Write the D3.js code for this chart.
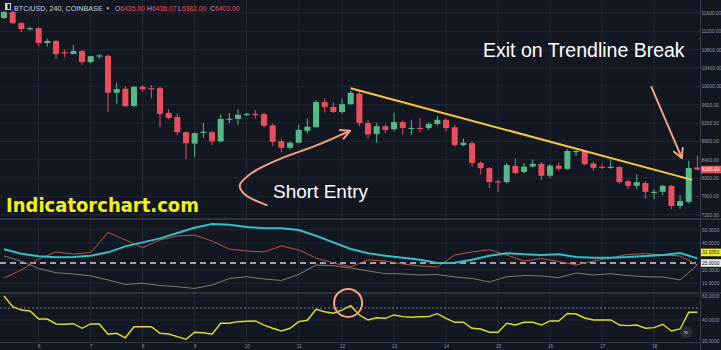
<!DOCTYPE html>
<html>
<head>
<meta charset="utf-8">
<script src="https://cdn.jsdelivr.net/npm/d3@7"></script>
<style>
  html, body { margin: 0; padding: 0; background: #131722; }
  svg { display: block; font-family: "Liberation Sans", Arial, sans-serif; }
</style>
</head>
<body>
<svg id="chart" width="721" height="350"></svg>
<script>
// ---- data ----
const dayLabels = ['6', '7', '8', '9', '10', '11', '12', '13', '14', '15', '16', '17', '18'];
const dayIndex = [4, 10, 16, 22, 28, 34, 39, 45, 51, 57, 63, 69, 75];
const priceTicks = [7200, 7600, 8000, 8400, 8800, 9200, 9600, 10000, 10400, 10800, 11200, 11600];
const dmiTicks = [10, 20, 40, 50];
const oscTicks = [20, 40, 60];

const opens = [11490, 11620, 11380, 11250, 11270, 10945, 10990, 10745, 10705, 10770, 10530, 10660, 10665, 9860, 9950, 9570, 9990, 9960, 9960, 9420,
  9330, 9000, 8750, 8990, 9000, 8800, 9285, 9290, 9390, 9400, 9395, 9150, 8805, 8660, 8770, 9030, 9110, 9660, 9550, 9440,
  9610, 9840, 9200, 8960, 9130, 9065, 9220, 9090, 9095, 9090, 9180, 9270, 9110, 8720, 8760, 8330, 8215, 7930, 7910, 8265,
  8130, 8250, 8310, 8050, 8270, 8200, 8570, 8590, 8320, 8245, 8230, 8240, 7930, 7830, 7890, 7680, 7700, 7830, 7390, 7480, 8230];
const highs = [11650, 11650, 11400, 11300, 11290, 11040, 11010, 10800, 10900, 10790, 10560, 10700, 10690, 10080, 10000, 10010, 10030, 10030, 9990, 9500,
  9410, 9020, 8990, 9200, 9030, 9390, 9420, 9500, 9420, 9480, 9430, 9190, 8850, 8800, 9160, 9300, 9700, 9740, 9650, 9720,
  9900, 9910, 9260, 9200, 9170, 9420, 9260, 9270, 9300, 9220, 9350, 9300, 9160, 8860, 8800, 8360, 8240, 7960, 8320, 8430,
  8330, 8400, 8350, 8300, 8340, 8630, 8610, 8610, 8360, 8300, 8400, 8260, 7960, 8080, 7930, 7760, 7850, 7850, 7620, 8380, 8490];
const lows = [11470, 11360, 11185, 11220, 10880, 10870, 10600, 10630, 10700, 10460, 10500, 10600, 9440, 9620, 9550, 9550, 9880, 9740, 9110, 9280,
  8940, 8420, 8460, 8870, 8720, 8780, 9200, 9160, 9350, 9300, 9100, 8700, 8570, 8620, 8760, 8970, 9100, 9430, 9420, 9400,
  9600, 9130, 8860, 8770, 8980, 9020, 8960, 8940, 9000, 9050, 9140, 9020, 8680, 8690, 8250, 8080, 7780, 7700, 7880, 8080,
  8100, 8230, 7950, 8000, 8150, 8180, 8480, 8280, 8160, 8200, 8200, 7870, 7760, 7760, 7550, 7540, 7630, 7320, 7330, 7450, 8170];
const closes = [11620, 11380, 11250, 11270, 10945, 10990, 10705, 10725, 10770, 10530, 10660, 10675, 9860, 9940, 9570, 9990, 9935, 9945, 9400, 9310,
  9000, 8760, 8980, 9010, 8800, 9290, 9295, 9380, 9400, 9390, 9140, 8790, 8660, 8770, 9050, 9120, 9660, 9550, 9440, 9610,
  9860, 9200, 8950, 9130, 9050, 9220, 9090, 9095, 9085, 9180, 9270, 9090, 8720, 8770, 8330, 8215, 7910, 7910, 8285, 8110,
  8250, 8310, 8050, 8270, 8200, 8590, 8590, 8300, 8220, 8235, 8245, 7910, 7830, 7910, 7700, 7700, 7830, 7390, 7500, 8220, 8185];

// DMI pane, one reading every second bar (bar 0, 2, 4 ... 80)
const dmiBars = d3.range(0, 81, 2);
const adx = [35.3, 32, 30, 29.3, 29.5, 30.5, 33, 37.5, 40.5, 43.5, 47.5, 51.5, 54.3, 53.7, 52, 51, 51, 49.8, 45.5, 40.5,
  35.5, 32.3, 30.5, 29, 27.5, 25, 25.2, 27.5, 30.5, 32.3, 31.5, 31, 31.5, 29.5, 29, 29, 29.5, 30.3, 31, 32.5, 28.5];
const plusDI = [13.7, 19.7, 28, 33.3, 31.7, 32.9, 48, 42.3, 36.5, 42.3, 45.3, 46, 41.5, 35.5, 34, 33.3, 37.8, 34.8, 28.8, 25,
  22.2, 27.3, 26.5, 24.3, 22.8, 22, 31, 33.3, 35, 31, 26.5, 28.4, 26.1, 23.5, 26.5, 28.8, 31.4, 32.1, 31, 30.3, 23.5];
const minusDI = [30.3, 26.3, 20.9, 17.7, 16.8, 15.3, 12.3, 8.9, 9.8, 8.1, 7.2, 5.9, 8.5, 13.4, 14.7, 13, 11.9, 16.4, 23.5, 23,
  21.3, 19, 17.1, 16.8, 16, 16.4, 14.5, 13.4, 10.8, 14.7, 15.6, 15.3, 14, 17.5, 16, 16.9, 15.6, 14.7, 14.5, 12.3, 23.5];
const adxLast = 32.9351;
const adxLevel = 25;

// lower oscillator, one reading per bar
const osc = [60, 51.1, 48.3, 47.5, 40.8, 40.8, 36.7, 36.4, 36.9, 33.1, 36.7, 36.7, 28.1, 28.9, 25.2, 34.4, 34.4, 34.4, 28.9, 28.3,
  26.1, 23.9, 29.8, 29.4, 28.1, 37.3, 37.3, 38.6, 38.9, 39.2, 35.8, 33.1, 30.8, 33.1, 38.6, 39.8, 48.9, 46.9, 45.6, 48.3,
  51.9, 44.2, 40, 41.9, 41.4, 44.2, 42.8, 42.3, 42.7, 42.8, 45.3, 41.4, 38.1, 38.1, 33.1, 32.5, 29.8, 29.8, 37.3, 35.8,
  38.1, 38.1, 35.8, 39.2, 39.2, 45.4, 45, 41.7, 40, 40, 40, 35.8, 35.3, 35.8, 33.1, 33.6, 36.4, 30.8, 32.5, 46.4, 46.4];
const oscLevel = 50;

const symbol = 'BTC/USD, 240, COINBASE';
const ohlcKeys = ['O', 'H', 'L', 'C'];
const ohlcVals = ['6435.00', '6436.07', '6382.00', '6403.00'];

// ---- layout ----
const plotRight = 700;
const upColor = '#53b987', downColor = '#eb4d5c';
const gridColor = '#242833', axisText = '#9598a1', sepColor = '#4a4e59';
const axisFont = 4.8;

const svg = d3.select('#chart');
const x = d3.scaleLinear().domain([0, 80]).range([4, 697.4]);
const yPrice = d3.scaleLinear().domain([7200, 11600]).range([214.7, 13]);
const yDmi = d3.scaleLinear().domain([10, 50]).range([283, 229.7]);
const yOsc = d3.scaleLinear().domain([20, 60]).range([344, 296]);

svg.append('rect').attr('width', 721).attr('height', 350).attr('fill', '#131722');

const defs = svg.append('defs');
function clip(id, y0, y1) {
  defs.append('clipPath').attr('id', id).append('rect')
    .attr('x', 0).attr('y', y0).attr('width', plotRight).attr('height', y1 - y0);
}
clip('cPrice', 0, 219);
clip('cDmi', 219, 293);
clip('cOsc', 293, 342);

// grid
svg.append('g').selectAll('line').data(dayIndex).enter().append('line')
  .attr('x1', d => x(d)).attr('x2', d => x(d)).attr('y1', 0).attr('y2', 342)
  .attr('stroke', gridColor).attr('stroke-width', 1);
svg.append('g').selectAll('line').data(priceTicks).enter().append('line')
  .attr('x1', 0).attr('x2', plotRight).attr('y1', d => yPrice(d)).attr('y2', d => yPrice(d))
  .attr('stroke', gridColor);
svg.append('g').selectAll('line').data(dmiTicks).enter().append('line')
  .attr('x1', 0).attr('x2', plotRight).attr('y1', d => yDmi(d)).attr('y2', d => yDmi(d))
  .attr('stroke', gridColor);
svg.append('g').selectAll('line').data([40, 60]).enter().append('line')
  .attr('x1', 0).attr('x2', plotRight).attr('y1', d => yOsc(d)).attr('y2', d => yOsc(d))
  .attr('stroke', gridColor);

// candles
const bars = opens.map((o, i) => ({ i, o, h: highs[i], l: lows[i], c: closes[i] }));
const candle = svg.append('g').attr('clip-path', 'url(#cPrice)')
  .selectAll('g').data(bars).enter().append('g');
candle.append('line')
  .attr('x1', d => x(d.i)).attr('x2', d => x(d.i))
  .attr('y1', d => yPrice(d.h)).attr('y2', d => yPrice(d.l))
  .attr('stroke', d => d.c >= d.o ? upColor : downColor);
candle.append('rect')
  .attr('x', d => x(d.i) - 3).attr('width', 6)
  .attr('y', d => yPrice(Math.max(d.o, d.c)))
  .attr('height', d => Math.max(1.2, Math.abs(yPrice(d.o) - yPrice(d.c))))
  .attr('fill', d => d.c >= d.o ? upColor : downColor);

// header
const hd = svg.append('g');
hd.append('rect').attr('x', 5.5).attr('y', 3.5).attr('width', 5).attr('height', 6)
  .attr('fill', 'none').attr('stroke', '#d1d4dc');
hd.append('rect').attr('x', 5.5).attr('y', 3.5).attr('width', 2).attr('height', 6).attr('fill', '#d1d4dc');
hd.append('text').attr('x', 14).attr('y', 10.5).attr('font-size', 7.2)
  .attr('fill', '#d1d4dc').text(symbol);
hd.append('text').attr('x', 105.5).attr('y', 9.5).attr('font-size', 4.5).attr('fill', '#d1d4dc').text('\u25BC');
const ohlcX = [115, 147, 178, 210];
ohlcKeys.forEach((k, i) => {
  const t = hd.append('text').attr('x', ohlcX[i]).attr('y', 10.5).attr('font-size', 6.8);
  t.append('tspan').attr('fill', '#b2b5be').text(k);
  t.append('tspan').attr('fill', downColor).text(ohlcVals[i]);
});

// DMI pane
const dmiLine = vals => d3.line().x((d, k) => x(dmiBars[k])).y(d => yDmi(d))(vals);
const dmi = svg.append('g').attr('clip-path', 'url(#cDmi)');
dmi.append('line').attr('x1', 0).attr('x2', plotRight)
  .attr('y1', yDmi(adxLevel)).attr('y2', yDmi(adxLevel))
  .attr('stroke', '#d1d4dc').attr('stroke-width', 1.5).attr('stroke-dasharray', '6,4');
dmi.append('path').attr('d', dmiLine(minusDI)).attr('fill', 'none').attr('stroke', '#817c68').attr('stroke-width', 1);
dmi.append('path').attr('d', dmiLine(plusDI)).attr('fill', 'none').attr('stroke', '#b9553b').attr('stroke-width', 1);
dmi.append('path').attr('d', dmiLine(adx)).attr('fill', 'none').attr('stroke', '#33bfc6').attr('stroke-width', 2);

// oscillator pane
const oscG = svg.append('g').attr('clip-path', 'url(#cOsc)');
oscG.append('line').attr('x1', 0).attr('x2', plotRight)
  .attr('y1', yOsc(oscLevel)).attr('y2', yOsc(oscLevel))
  .attr('stroke', '#7d808a').attr('stroke-dasharray', '2,2');
oscG.append('path')
  .attr('d', d3.line().x((d, i) => x(i)).y(d => yOsc(d))(osc))
  .attr('fill', 'none').attr('stroke', '#dede2a').attr('stroke-width', 1.4);

// pane separators and price axis border
svg.append('g').selectAll('line').data([219, 293]).enter().append('line')
  .attr('x1', 0).attr('x2', 721).attr('y1', d => d).attr('y2', d => d)
  .attr('stroke', sepColor);
svg.append('line').attr('x1', 0).attr('x2', plotRight).attr('y1', 342.5).attr('y2', 342.5).attr('stroke', '#363a45');
svg.append('line').attr('x1', plotRight + 0.5).attr('x2', plotRight + 0.5).attr('y1', 0).attr('y2', 350).attr('stroke', '#363a45');

// axes
function styleAxis(g) {
  g.select('.domain').remove();
  g.selectAll('text').attr('fill', axisText).attr('font-size', axisFont);
  g.selectAll('line').remove();
}
svg.append('g').attr('transform', `translate(${plotRight},0)`)
  .call(d3.axisRight(yPrice).tickValues(priceTicks).tickFormat(d3.format('.2f')).tickSize(0).tickPadding(1.5))
  .call(styleAxis);
svg.append('g').attr('transform', `translate(${plotRight},0)`)
  .call(d3.axisRight(yDmi).tickValues(dmiTicks).tickFormat(d3.format('.4f')).tickSize(0).tickPadding(2))
  .call(styleAxis);
svg.append('g').attr('transform', `translate(${plotRight},0)`)
  .call(d3.axisRight(yOsc).tickValues(oscTicks).tickFormat(d3.format('.4f')).tickSize(0).tickPadding(2))
  .call(styleAxis)
  .selectAll('.tick').filter(d => d === 20).attr('transform', 'translate(0,341)');
svg.append('g').attr('transform', 'translate(0,342)')
  .call(d3.axisBottom(x).tickValues(dayIndex).tickFormat((d, i) => dayLabels[i]).tickSize(0).tickPadding(2.5))
  .call(styleAxis);

// value boxes on the right scale
function valueBox(y, label, bg, fg) {
  svg.append('rect').attr('x', 701).attr('y', y - 3.8).attr('width', 20).attr('height', 7.6).attr('fill', bg);
  svg.append('text').attr('x', 702).attr('y', y).attr('dy', '0.32em')
    .attr('font-size', axisFont).attr('fill', fg).text(label);
}
valueBox(yPrice(closes[closes.length - 1]), d3.format('.2f')(closes[closes.length - 1]), downColor, '#ffffff');
valueBox(yDmi(adxLast), d3.format('.4f')(adxLast), '#f2ee1a', '#131722');
valueBox(yDmi(adxLevel), d3.format('.4f')(adxLevel), '#e8e9ec', '#131722');

// trendline
const trend = [[40, 9960], [79.4, 7960]];
svg.append('line')
  .attr('x1', x(trend[0][0])).attr('y1', yPrice(trend[0][1]))
  .attr('x2', x(trend[1][0])).attr('y2', yPrice(trend[1][1]))
  .attr('stroke', '#f3c83c').attr('stroke-width', 2);

// arrows
const arrowColor = '#f2a37e';
function arrowHead(tx, ty, angle) {
  const len = 10, spread = 0.5;
  [angle + Math.PI - spread, angle + Math.PI + spread].forEach(a => {
    svg.append('line').attr('x1', tx).attr('y1', ty)
      .attr('x2', tx + Math.cos(a) * len).attr('y2', ty + Math.sin(a) * len)
      .attr('stroke', arrowColor).attr('stroke-width', 2).attr('stroke-linecap', 'round');
  });
}
const entryCurve = [[30.3, 7410], [27.8, 7640], [27.2, 7840], [28.5, 8100], [31.8, 8414], [35.9, 8700], [39.9, 9030]];
const pts = entryCurve.map(p => [x(p[0]), yPrice(p[1])]);
svg.append('path').attr('d', d3.line().curve(d3.curveCatmullRom)(pts))
  .attr('fill', 'none').attr('stroke', arrowColor).attr('stroke-width', 2).attr('stroke-linecap', 'round');
const pe = pts[pts.length - 1], pb = pts[pts.length - 2];
arrowHead(pe[0], pe[1], Math.atan2(pe[1] - pb[1], pe[0] - pb[0]));

const exitArrow = [[74.7, 9985], [78.2, 8440]];
const ea = exitArrow.map(p => [x(p[0]), yPrice(p[1])]);
svg.append('line').attr('x1', ea[0][0]).attr('y1', ea[0][1]).attr('x2', ea[1][0]).attr('y2', ea[1][1])
  .attr('stroke', arrowColor).attr('stroke-width', 2).attr('stroke-linecap', 'round');
arrowHead(ea[1][0], ea[1][1], Math.atan2(ea[1][1] - ea[0][1], ea[1][0] - ea[0][0]));

// circle around the oscillator peak
svg.append('circle').attr('cx', x(39.7)).attr('cy', yOsc(54.2)).attr('r', 14)
  .attr('fill', 'none').attr('stroke', arrowColor).attr('stroke-width', 2);

// scroll button
svg.append('circle').attr('cx', 686).attr('cy', 332).attr('r', 6).attr('fill', '#2a2e39');
svg.append('text').attr('x', 686).attr('y', 332).attr('dy', '0.35em').attr('text-anchor', 'middle')
  .attr('font-size', 8).attr('fill', '#b2b5be').text('\u00BB');

// captions
svg.append('text').attr('x', 483).attr('y', 57).attr('font-size', 19.5).attr('fill', '#ffffff')
  .text('Exit on Trendline Break');
svg.append('text').attr('x', 273).attr('y', 198).attr('font-size', 19).attr('fill', '#ffffff')
  .text('Short Entry');
svg.append('text').attr('x', 6).attr('y', 212).attr('font-size', 19).attr('font-weight', 'bold')
  .attr('font-family', '"DejaVu Sans", Verdana, sans-serif')
  .attr('textLength', 193).attr('lengthAdjust', 'spacingAndGlyphs')
  .attr('fill', '#f2ef1d').text('Indicatorchart.com');
</script>
</body>
</html>
